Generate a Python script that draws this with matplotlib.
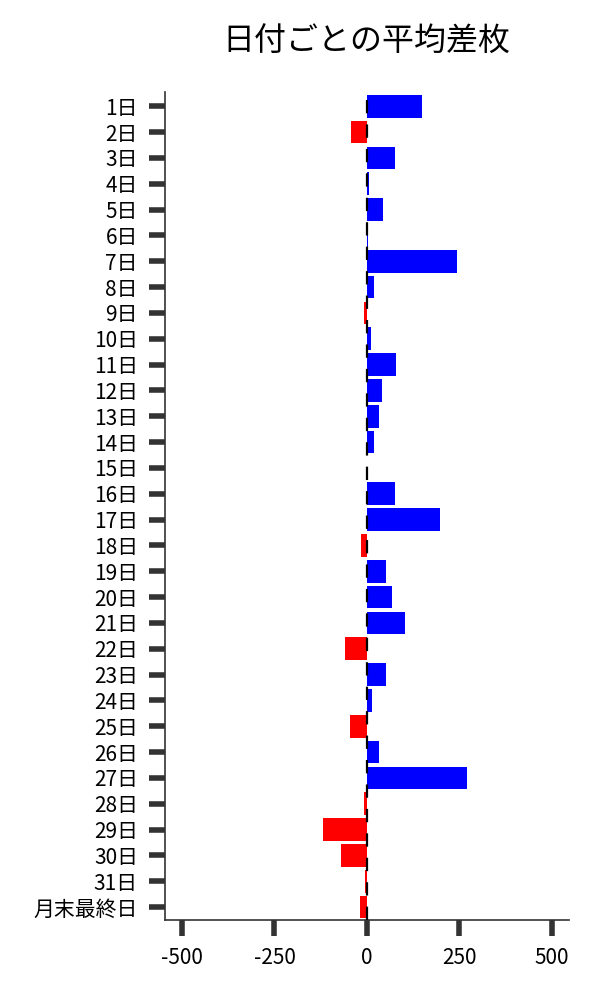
import matplotlib
matplotlib.use("Agg")
import matplotlib.pyplot as plt

plt.rcParams['font.family'] = ['Noto Sans CJK JP', 'DejaVu Sans']

days = [f"{i}日" for i in range(1, 32)] + ["月末最終日"]
diff = [148, -43, 75, 5, 43, 2, 243, 18, -7, 11,
        80, 42, 32, 18, 0, 76, 199, -15, 53, 67,
        102, -59, 51, 15, -46, 32, 272, -9, -118, -70,
        -4, -19]


def mostrar(days, diff):
    fig = plt.figure(figsize=(6, 10), dpi=100)
    ax = fig.add_axes([0.275, 0.08, 0.673, 0.828])
    colors = ['blue' if v >= 0 else 'red' for v in diff]
    pos = list(range(len(days)))
    ax.barh(pos, diff, height=0.88, color=colors, zorder=2)
    ax.axvline(0, color='black', linestyle=(0, (6, 5)), linewidth=1.6, zorder=3)

    ax.set_yticks(pos)
    ax.set_yticklabels(days)
    ax.set_ylim(len(days) - 0.5, -0.55)
    ax.set_xlim(-546, 546)
    ax.set_xticks([-500, -250, 0, 250, 500])
    ax.set_xticklabels(['-500', '-250', '0', '250', '500'])

    ax.tick_params(axis='both', labelsize=15, length=11.5, width=4,
                   color='#333333', pad=8)
    for s in ['top', 'right']:
        ax.spines[s].set_visible(False)
    for s in ['left', 'bottom']:
        ax.spines[s].set_color('#333333')
        ax.spines[s].set_linewidth(1.2)

    fig.text(0.611, 0.958, '日付ごとの平均差枚', fontsize=23, ha='center', va='center')
    fig.savefig('out.png', dpi=100)


if __name__ == "__main__":
    mostrar(days, diff)
